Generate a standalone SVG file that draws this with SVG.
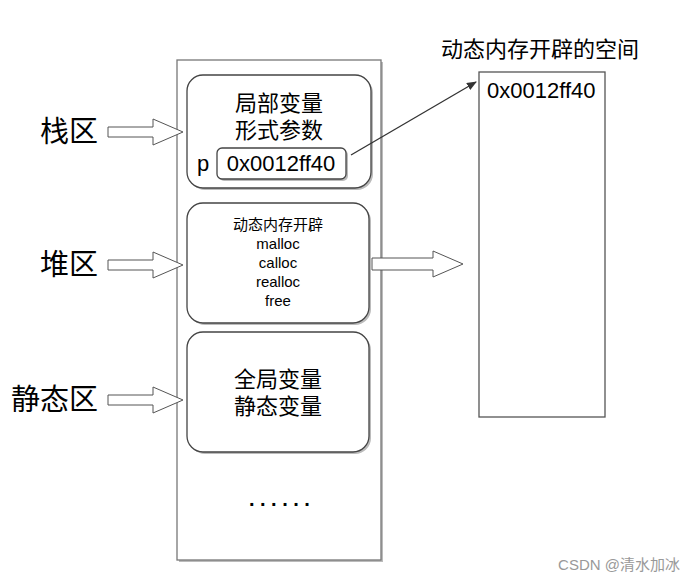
<svg xmlns="http://www.w3.org/2000/svg" width="697" height="585" viewBox="0 0 697 585">
<style>
text{font-family:"Liberation Sans","Noto Sans CJK SC",sans-serif;fill:#000}
.box{fill:#fff;stroke:#444;stroke-width:1.3}
.sh{fill:#bbb}
.blk{fill:#fff;stroke:#555;stroke-width:1}
.c{text-anchor:middle}
</style>
<rect width="697" height="585" fill="#fff"/>
<g id="memory">
<rect x="179" y="62" width="204" height="500" class="sh"/>
<rect x="177" y="60" width="204" height="500" fill="#fff" stroke="#777" stroke-width="1.3"/>
</g>
<g id="stack">
<rect x="189" y="77" width="184" height="113" rx="16" class="sh"/>
<rect x="187" y="75" width="184" height="113" rx="16" class="box"/>
<text x="279" y="111" font-size="22" class="c">局部变量</text>
<text x="279" y="138" font-size="22" class="c">形式参数</text>
<text x="197" y="171" font-size="22">p</text>
<rect x="219" y="150" width="129" height="31" rx="5" class="sh"/>
<rect x="217" y="148" width="129" height="31" rx="5" class="box"/>
<text x="281" y="171" font-size="22" class="c">0x0012ff40</text>
</g>
<g id="heap">
<rect x="189" y="205" width="182" height="120" rx="16" class="sh"/>
<rect x="187" y="203" width="182" height="120" rx="16" class="box"/>
<text x="278" y="230" font-size="15" class="c">动态内存开辟</text>
<text x="278" y="249" font-size="15" class="c">malloc</text>
<text x="278" y="268" font-size="15" class="c">calloc</text>
<text x="278" y="287" font-size="15" class="c">realloc</text>
<text x="278" y="306" font-size="15" class="c">free</text>
</g>
<g id="static">
<rect x="189" y="334" width="182" height="120" rx="16" class="sh"/>
<rect x="187" y="332" width="182" height="120" rx="16" class="box"/>
<text x="278" y="387" font-size="22" class="c">全局变量</text>
<text x="278" y="414" font-size="22" class="c">静态变量</text>
</g>
<g id="dots">
<text x="249" y="506" font-size="20" font-weight="bold" letter-spacing="5.5">......</text>
</g>
<g id="dynamic">
<text x="540" y="57" font-size="22" class="c">动态内存开辟的空间</text>
<rect x="479" y="72" width="126" height="345" fill="#fff" stroke="#555" stroke-width="1.3"/>
<text x="487" y="98" font-size="22">0x0012ff40</text>
</g>
<g id="labels">
<text x="98" y="142" font-size="29" text-anchor="end">栈区</text>
<text x="98" y="275" font-size="29" text-anchor="end">堆区</text>
<text x="98" y="410" font-size="29" text-anchor="end">静态区</text>
<text x="680" y="570" font-size="15" text-anchor="end" style="fill:#999">CSDN @清水加冰</text>
</g>
<g id="connectors">
<defs>
<marker id="ah" markerWidth="10" markerHeight="8" refX="9" refY="4" orient="auto" markerUnits="userSpaceOnUse">
<path d="M0,0 L10,4 L0,8 Z" fill="#333"/>
</marker>
</defs>
<polygon class="blk" points="108,127 153,127 153,119 183,132 153,145 153,137 108,137"/>
<polygon class="blk" points="108,260 153,260 153,252 183,265 153,278 153,270 108,270"/>
<polygon class="blk" points="108,395 153,395 153,387 183,400 153,413 153,405 108,405"/>
<polygon class="blk" points="372,258 433,258 433,251 463,264 433,277 433,270 372,270"/>
<line x1="351" y1="155" x2="476" y2="82" stroke="#333" stroke-width="1.3" marker-end="url(#ah)"/>
</g>
</svg>
